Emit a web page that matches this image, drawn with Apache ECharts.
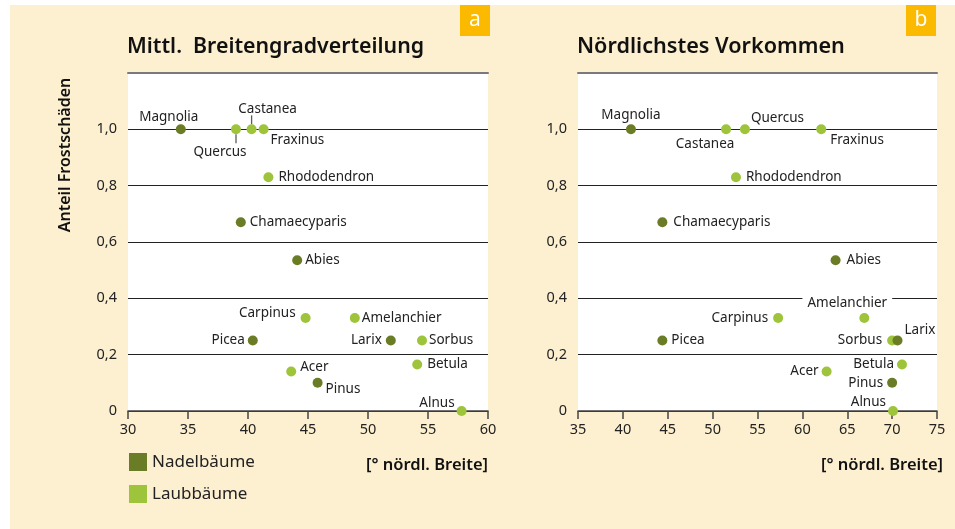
<!DOCTYPE html>
<html>
<head>
<meta charset="utf-8">
<script src="https://cdn.jsdelivr.net/npm/echarts@6/dist/echarts.min.js"></script>
<style>
  html, body { margin: 0; padding: 0; background: #ffffff; }
  #bg { position: absolute; left: 10px; top: 5px; width: 945px; height: 524px; background: #fdf0d1; }
  #chart { position: absolute; left: 0; top: 0; width: 955px; height: 529px; }
</style>
</head>
<body>
<div id="bg"></div>
<div id="chart"></div>
<script>
// ---- data ----
const species   = ['Magnolia','Quercus','Castanea','Fraxinus','Rhododendron','Chamaecyparis','Abies','Carpinus','Amelanchier','Picea','Larix','Sorbus','Betula','Acer','Pinus','Alnus'];
const treeGroup = ['Nadelbäume','Laubbäume','Laubbäume','Laubbäume','Laubbäume','Nadelbäume','Nadelbäume','Laubbäume','Laubbäume','Nadelbäume','Nadelbäume','Laubbäume','Laubbäume','Laubbäume','Nadelbäume','Laubbäume'];
const frostShare = [1.0, 1.0, 1.0, 1.0, 0.83, 0.67, 0.535, 0.33, 0.33, 0.25, 0.25, 0.25, 0.165, 0.14, 0.1, 0.0];
const meanLat    = [34.4, 39.0, 40.3, 41.3, 41.7, 39.4, 44.1, 44.8, 48.9, 40.4, 51.9, 54.5, 54.1, 43.6, 45.8, 57.8];
const northLat   = [40.9, 53.6, 51.5, 62.1, 52.6, 44.4, 63.7, 57.3, 66.9, 44.4, 70.6, 70.0, 71.1, 62.7, 70.0, 70.1];
const groups = ['Nadelbäume','Laubbäume'];
const panelTitles = ['Mittl.  Breitengradverteilung', 'Nördlichstes Vorkommen'];
const panelBadges = ['a', 'b'];
const yAxisTitle = 'Anteil Frostschäden';
const xAxisTitle = '[° nördl. Breite]';
const leaderSpecies = ['Quercus', 'Castanea']; // panel a labels with small tick leaders

// ---- layout / style (not data) ----
const FONT = '"Noto Sans", "Open Sans", sans-serif';
const colors = { 'Nadelbäume': '#6b7c26', 'Laubbäume': '#9dc43a' };
// [align, dx, dy] label anchor offsets from the dot centre
const labelPlaceA = {
  Magnolia: ['center', -12, -12], Quercus: ['center', -16, 23], Castanea: ['center', 16, -20],
  Fraxinus: ['left', 7, 11], Rhododendron: ['left', 10, 0], Chamaecyparis: ['left', 9, 0],
  Abies: ['left', 8, 0], Carpinus: ['right', -10, -5], Amelanchier: ['left', 7, 0],
  Picea: ['right', -8, 0], Larix: ['right', -9, 0], Sorbus: ['left', 7, 0],
  Betula: ['left', 10, 0], Acer: ['left', 9, -4], Pinus: ['left', 8, 6], Alnus: ['right', -7, -8]
};
const labelPlaceB = {
  Magnolia: ['center', 0, -14], Castanea: ['center', -21, 15], Quercus: ['left', 6, -11],
  Fraxinus: ['left', 9, 11], Rhododendron: ['left', 10, 0], Chamaecyparis: ['left', 11, 0],
  Abies: ['left', 11, 0], Carpinus: ['right', -10, 0], Amelanchier: ['center', -17, -15, true],
  Picea: ['left', 9, 0], Sorbus: ['right', -10, 0], Larix: ['left', 7, -10],
  Betula: ['right', -8, 0], Acer: ['right', -8, 0], Pinus: ['right', -9, 0], Alnus: ['right', -7, -9]
};
const leaderOffset = { Quercus: 9.5, Castanea: -9.5 };

const grids = [
  { left: 128, top: 73, width: 360, height: 338, show: true, backgroundColor: '#ffffff', borderWidth: 0 },
  { left: 578, top: 73, width: 359, height: 338, show: true, backgroundColor: '#ffffff', borderWidth: 0 }
];
const xRanges = [[30, 60], [35, 75]];

function yLabel(v) {
  if (v > 1.1) return '';
  if (Math.abs(v) < 1e-9) return '0';
  return v.toFixed(1).replace('.', ',');
}

const xAxes = [], yAxes = [];
for (let p = 0; p < 2; p++) {
  xAxes.push({
    type: 'value', gridIndex: p, min: xRanges[p][0], max: xRanges[p][1], interval: 5,
    position: 'bottom',
    axisLine: { show: true, onZero: false, lineStyle: { color: '#444', width: 1.5 } },
    axisTick: { show: true, length: 8, lineStyle: { color: '#444', width: 1.5 } },
    axisLabel: { color: '#222', fontSize: 14.5, fontFamily: FONT, margin: 11 },
    splitLine: { show: false }
  });
  xAxes.push({
    type: 'value', gridIndex: p, min: xRanges[p][0], max: xRanges[p][1], position: 'top',
    axisLine: { show: true, onZero: false, lineStyle: { color: '#7a7a7a', width: 2 } },
    axisTick: { show: false }, axisLabel: { show: false }, splitLine: { show: false }
  });
  yAxes.push({
    type: 'value', gridIndex: p, min: 0, max: 1.2, interval: 0.2,
    axisLine: { show: false }, axisTick: { show: false },
    axisLabel: { color: '#222', fontSize: 14.5, fontFamily: FONT, margin: 11, formatter: yLabel },
    splitLine: { show: true, lineStyle: { color: ['#222','#222','#222','#222','#222','#222','#7a7a7a'], width: 1 } }
  });
}

const series = [];
const xValues = [meanLat, northLat];
const places = [labelPlaceA, labelPlaceB];
for (let p = 0; p < 2; p++) {
  // Laubbäume first so Nadelbäume dots draw on top
  ['Laubbäume', 'Nadelbäume'].forEach(g => {
    const data = [];
    species.forEach((s, i) => {
      if (treeGroup[i] !== g) return;
      const pl = places[p][s];
      const lab = {
        show: true, position: 'inside', align: pl[0], verticalAlign: 'middle',
        offset: [pl[1], pl[2]], formatter: '{b}', color: '#222', fontSize: 13.5, fontFamily: FONT
      };
      if (pl[3]) { lab.backgroundColor = '#ffffff'; lab.padding = [1, 5]; }
      data.push({ name: s, value: [xValues[p][i], frostShare[i]], label: lab });
    });
    series.push({
      type: 'scatter', name: g, xAxisIndex: p * 2, yAxisIndex: p,
      symbol: 'circle', symbolSize: 10, itemStyle: { color: colors[g], opacity: 1 },
      data: data, z: g === 'Nadelbäume' ? 4 : 3, animation: false
    });
  });
}
// small leader ticks (panel a)
series.push({
  type: 'scatter', name: 'leader', xAxisIndex: 0, yAxisIndex: 0, silent: true,
  symbol: 'rect', itemStyle: { color: '#333' }, z: 2, animation: false,
  data: leaderSpecies.map(s => {
    const i = species.indexOf(s);
    return { value: [meanLat[i], frostShare[i]], symbolSize: [1.3, 9], symbolOffset: [0, leaderOffset[s]] };
  })
});

const graphic = [
  { type: 'rect', shape: { x: 460, y: 5, width: 30, height: 31 }, style: { fill: '#fbb900' } },
  { type: 'text', x: 475, y: 20, style: { text: panelBadges[0], fill: '#fff', fontSize: 21, fontFamily: FONT, align: 'center', verticalAlign: 'middle' } },
  { type: 'rect', shape: { x: 906, y: 5, width: 30, height: 31 }, style: { fill: '#fbb900' } },
  { type: 'text', x: 921, y: 20, style: { text: panelBadges[1], fill: '#fff', fontSize: 21, fontFamily: FONT, align: 'center', verticalAlign: 'middle' } },
  { type: 'text', x: 127, y: 47, style: { text: panelTitles[0], fill: '#111', fontSize: 21.3, fontWeight: 600, fontFamily: FONT, align: 'left', verticalAlign: 'middle' } },
  { type: 'text', x: 577, y: 47, style: { text: panelTitles[1], fill: '#111', fontSize: 21.6, fontWeight: 600, fontFamily: FONT, align: 'left', verticalAlign: 'middle' } },
  { type: 'text', x: 65, y: 155, rotation: Math.PI / 2, style: { text: yAxisTitle, fill: '#111', fontSize: 16, fontWeight: 600, fontFamily: FONT, align: 'center', verticalAlign: 'middle' } },
  { type: 'text', x: 488, y: 465, style: { text: xAxisTitle, fill: '#111', fontSize: 16.5, fontWeight: 600, fontFamily: FONT, align: 'right', verticalAlign: 'middle' } },
  { type: 'text', x: 943, y: 465, style: { text: xAxisTitle, fill: '#111', fontSize: 16.5, fontWeight: 600, fontFamily: FONT, align: 'right', verticalAlign: 'middle' } }
];

const chart = echarts.init(document.getElementById('chart'), null, { renderer: 'canvas' });
chart.setOption({
  animation: false,
  backgroundColor: 'transparent',
  grid: grids,
  xAxis: xAxes,
  yAxis: yAxes,
  legend: {
    data: groups, orient: 'vertical', left: 129, top: 453, itemWidth: 18, itemHeight: 18, itemGap: 14,
    icon: 'rect', selectedMode: false, padding: 0,
    textStyle: { fontSize: 17, color: '#222', fontFamily: FONT }
  },
  graphic: graphic,
  series: series
});
</script>
</body>
</html>
